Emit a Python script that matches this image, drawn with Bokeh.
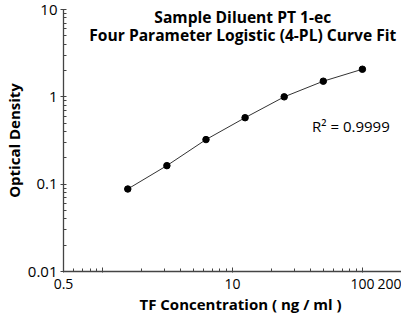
from bokeh.plotting import figure
from bokeh.models import Range1d, FixedTicker, Label, Title
from bokeh.embed import file_html
from bokeh.resources import INLINE

# ---- data ----
concentration = [1.5625, 3.125, 6.25, 12.5, 25, 50, 100]
optical_density = [0.088, 0.163, 0.324, 0.577, 1.00, 1.51, 2.07]

x_major_ticks = [0.5, 1, 10, 100, 200]
x_tick_labels = {0.5: "0.5", 1: "", 10: "10", 100: "100", 200: "200"}
y_major_ticks = [0.01, 0.1, 1, 10]
y_tick_labels = {0.01: "0.01", 0.1: "0.1", 1: "1", 10: "10"}

title_lines = ["Sample Diluent PT 1-ec", "Four Parameter Logistic (4-PL) Curve Fit"]
r2_text = "R\u00b2 = 0.9999"
x_label = "TF Concentration ( ng / ml )"
y_label = "Optical Density"

FONT = "Open Sans"
AXIS_COLOR = "#444444"

x_minor = [m * 0.1 for m in range(6, 10)] + [float(m) for m in range(2, 10)] + [m * 10.0 for m in range(2, 10)]
y_minor = [m * 10.0 ** e for e in (-2, -1, 0) for m in range(2, 10)]

p = figure(width=401, height=313, x_axis_type="log", y_axis_type="log",
           x_range=Range1d(0.5, 200), y_range=Range1d(0.01, 10),
           output_backend="svg", toolbar_location=None,
           min_border_left=56, min_border_right=0, min_border_top=9, min_border_bottom=0)
p.outline_line_color = None
p.background_fill_color = "white"
p.border_fill_color = "white"
p.xgrid.visible = False
p.ygrid.visible = False

p.line(concentration, optical_density, line_color="#333333", line_width=1)
p.scatter(concentration, optical_density, size=6.5, fill_color="black", line_color="black")

xa = p.xaxis[0]
xa.ticker = FixedTicker(ticks=x_major_ticks, minor_ticks=x_minor)
xa.major_label_overrides = x_tick_labels
ya = p.yaxis[0]
ya.ticker = FixedTicker(ticks=y_major_ticks, minor_ticks=y_minor)
ya.major_label_overrides = y_tick_labels

for ax in (xa, ya):
    ax.axis_line_color = AXIS_COLOR
    ax.axis_line_width = 1.3
    ax.major_tick_line_color = AXIS_COLOR
    ax.minor_tick_line_color = AXIS_COLOR
    ax.major_label_text_font = FONT
    ax.major_label_text_font_size = "15px"
    ax.major_label_text_color = "black"
    ax.axis_label_text_font = FONT
    ax.axis_label_text_font_size = "15px"
    ax.axis_label_text_font_style = "bold"
    ax.axis_label_text_color = "black"

xa.major_label_text_font_size = "14px"
xa.major_tick_in = 4
xa.major_tick_out = 1
xa.minor_tick_in = 3
xa.minor_tick_out = 0
xa.major_label_standoff = 6

p.add_layout(Title(text=x_label, align="left", text_font=FONT, text_font_size="15px",
                   text_font_style="bold", text_color="black", standoff=0, offset=76), "below")

ya.axis_label = y_label
ya.major_tick_in = 3
ya.major_tick_out = 3
ya.minor_tick_in = 3
ya.minor_tick_out = 0
ya.major_label_standoff = 3
ya.axis_label_standoff = 1

title_style = dict(text_align="center", text_baseline="middle", text_font=FONT,
                   text_font_size="15.6px", text_font_style="bold", text_color="black")
p.add_layout(Label(x=12.0, y=8.2, text=title_lines[0], **title_style))
p.add_layout(Label(x=12.0, y=5.1, text=title_lines[1], **title_style))
p.add_layout(Label(x=41, y=0.46, text=r2_text, text_align="left", text_baseline="middle",
                   text_font=FONT, text_font_size="15px", text_color="black"))

open("out.html", "w").write(file_html(p, INLINE))
